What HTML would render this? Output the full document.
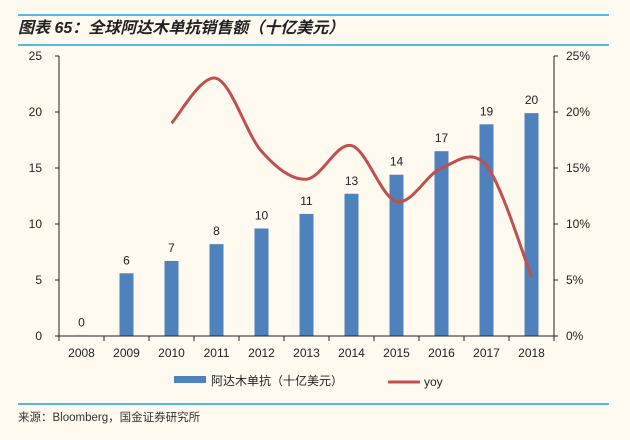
<!DOCTYPE html>
<html><head><meta charset="utf-8"><style>
body{margin:0;background:#fffaf0;}
svg{display:block;font-family:"Liberation Sans","Noto Sans CJK SC",sans-serif;}
</style></head><body>
<svg id="c" width="630" height="440">
<rect width="630" height="440" fill="#fffaf0"/>
<line x1="18" y1="15" x2="609" y2="15" stroke="#1aa3e8" stroke-width="1.5"/>
<text x="18" y="33" font-size="16" font-weight="bold" font-style="italic" fill="#222">图表 65：全球阿达木单抗销售额（十亿美元）</text>
<line x1="18" y1="45" x2="609" y2="45" stroke="#1aa3e8" stroke-width="1.5"/>
<line x1="18" y1="404" x2="609" y2="404" stroke="#1aa3e8" stroke-width="1.5"/>
<text x="18" y="421" font-size="11.5" fill="#333">来源：Bloomberg，国金证券研究所</text>
<g id="plot"></g>
<g>
<rect x="174" y="376" width="32" height="7" fill="#4f81bd"/>
<text x="211" y="385" font-size="12" fill="#222">阿达木单抗（十亿美元）</text>
<line x1="388" y1="382" x2="420" y2="382" stroke="#c0504d" stroke-width="3"/>
<text x="424" y="386" font-size="12" fill="#222">yoy</text>
</g>
</svg>
<script>
const categories=["2008","2009","2010","2011","2012","2013","2014","2015","2016","2017","2018"];
const sales=[0.05,5.6,6.7,8.2,9.6,10.9,12.7,14.4,16.5,18.9,19.9];
const salesLabels=["0","6","7","8","10","11","13","14","17","19","20"];
const yoyYears=["2010","2011","2012","2013","2014","2015","2016","2017","2018"];
const yoy=[19,23,16.5,14,17,12,15,15.2,5.3];
const leftTicks=[0,5,10,15,20,25];
const rightTicks=[0,5,10,15,20,25];
const NS="http://www.w3.org/2000/svg";
const g=document.getElementById('plot');
const X0=59,X1=554,Y0=336,Y1=56;
const step=(X1-X0)/categories.length;
const xc=i=>X0+step*(i+0.5);
const yL=v=>Y0-(v/25)*(Y0-Y1);
const yR=v=>Y0-(v/25)*(Y0-Y1);
function mk(t,a){const e=document.createElementNS(NS,t);for(const k in a)e.setAttribute(k,a[k]);g.appendChild(e);return e;}
// bars
sales.forEach((v,i)=>{
 const r=mk('rect',{x:xc(i)-7,y:yL(v),width:14,height:Y0-yL(v),fill:'#4f81bd'});
 
 
 const t=mk('text',{x:xc(i),y:yL(v)-9,'font-size':12,'text-anchor':'middle',fill:'#222'});
 t.textContent=salesLabels[i];
 
 
});
// axes
const ax=mk('path',{d:`M${X0} ${Y1}V${Y0}H${X1}V${Y1}`,fill:'none',stroke:'#222','stroke-width':1});


leftTicks.forEach(v=>{
 mk('line',{x1:X0-4,x2:X0,y1:yL(v),y2:yL(v),stroke:'#222'});
 const t=mk('text',{x:X0-17,y:yL(v)+4,'font-size':12,'text-anchor':'end',fill:'#222'});
 t.textContent=v;
 
 
});
rightTicks.forEach(v=>{
 mk('line',{x1:X1,x2:X1+4,y1:yR(v),y2:yR(v),stroke:'#222'});
 const t=mk('text',{x:X1+12,y:yR(v)+4,'font-size':12,fill:'#222'});
 t.textContent=v+'%';
 
 
});
for(let i=0;i<=categories.length;i++) mk('line',{x1:X0+step*i,x2:X0+step*i,y1:Y0,y2:Y0+5,stroke:'#222'});
categories.forEach((c,i)=>{
 const t=mk('text',{x:xc(i),y:Y0+21,'font-size':12,'text-anchor':'middle',fill:'#222'});
 t.textContent=c;
 
 
});
// yoy smooth line
const pts=yoy.map((v,i)=>[xc(categories.indexOf(yoyYears[i])),yR(v)]);
let d=`M${pts[0][0]} ${pts[0][1]}`;
for(let i=0;i<pts.length-1;i++){
 const p0=pts[Math.max(0,i-1)],p1=pts[i],p2=pts[i+1],p3=pts[Math.min(pts.length-1,i+2)];
 const c1=[p1[0]+(p2[0]-p0[0])/6,p1[1]+(p2[1]-p0[1])/6];
 const c2=[p2[0]-(p3[0]-p1[0])/6,p2[1]-(p3[1]-p1[1])/6];
 d+=`C${c1[0]} ${c1[1]} ${c2[0]} ${c2[1]} ${p2[0]} ${p2[1]}`;
}
const ln=mk('path',{d:d,fill:'none',stroke:'#c0504d','stroke-width':3});


</script>
</body></html>
